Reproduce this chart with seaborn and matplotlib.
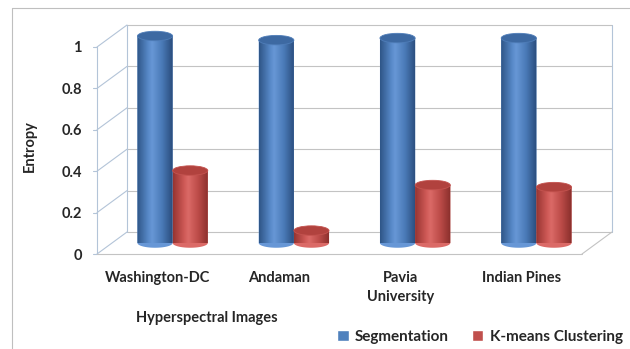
import numpy as np
import pandas as pd
import matplotlib
matplotlib.use("Agg")
import matplotlib.pyplot as plt
import seaborn as sns
from matplotlib.colors import LinearSegmentedColormap
from matplotlib.patches import Ellipse, PathPatch
from matplotlib.path import Path
from matplotlib.lines import Line2D
from matplotlib.transforms import ScaledTranslation

# data
images = ["Washington-DC", "Andaman", "Pavia\nUniversity", "Indian Pines"]
segmentation = [1.0, 0.98, 0.99, 0.99]
kmeans = [0.35, 0.06, 0.28, 0.27]
methods = ["Segmentation", "K-means Clustering"]
y_ticks = [0, 0.2, 0.4, 0.6, 0.8, 1]
y_tick_labels = ["0", "0.2", "0.4", "0.6", "0.8", "1"]

df = pd.DataFrame({
    "image": images * 2,
    "entropy": segmentation + kmeans,
    "method": [methods[0]] * len(images) + [methods[1]] * len(images),
})

sns.set_theme(style="white")
plt.rcParams["font.family"] = ["Lato", "DejaVu Sans"]
plt.rcParams["font.weight"] = "bold"

W, H, DPI = 630, 349, 100
fig = plt.figure(figsize=(W / DPI, H / DPI), dpi=DPI)
fig.patch.set_facecolor("white")

# the axes is the middle depth plane of the 3-D box
ax = fig.add_axes([112 / W, 106 / H, 485 / W, 207 / H])
ax.set_facecolor("none")
for s in ax.spines.values():
    s.set_visible(False)

blue, red = "#4f81bd", "#c0504d"
sns.barplot(data=df, x="image", y="entropy", hue="method",
            palette=[blue, red], width=0.58, saturation=1, ax=ax)
ax.set_xlim(-0.5, len(images) - 0.5)
ax.set_ylim(0, 1)
ax.set_xlabel("")
ax.set_ylabel("")

# depth offsets (pixels) converted to data units
DEPTH_X, DEPTH_Y = 15, 11
pos = ax.get_position()
px_x = len(images) / (pos.width * W)
px_y = 1 / (pos.height * H)
dx = DEPTH_X * px_x
dy = DEPTH_Y * px_y
x_lo, x_hi = ax.get_xlim()

grid_c = "#c3c3c3"
wall_c = "#b3c4d8"


def seg(x0, y0, x1, y1, color):
    ax.add_line(Line2D([x0, x1], [y0, y1], color=color, lw=0.8,
                       clip_on=False, zorder=0.5))


# back wall gridlines, left wall and front axis
for v in y_ticks:
    seg(x_lo + dx, v + dy, x_hi + dx, v + dy, grid_c)
    seg(x_lo + dx, v + dy, x_lo - dx, v - dy, wall_c)
    seg(x_lo - dx, v - dy, x_lo - dx - 4 * px_x, v - dy, wall_c)
seg(x_lo + dx, dy, x_lo + dx, 1 + dy, wall_c)
seg(x_hi + dx, dy, x_hi + dx, 1 + dy, wall_c)
seg(x_lo - dx, -dy, x_lo - dx, 1 - dy, wall_c)
# floor
seg(x_lo - dx, -dy, x_hi - dx, -dy, grid_c)
seg(x_hi - dx, -dy, x_hi + dx, dy, grid_c)

# cylinders built on the seaborn bars
shades = [
    ["#2f5688", "#5687c6", "#6797d6", "#4a7ab7", "#2a4c7c"],
    ["#973532", "#cd5855", "#db6a67", "#bd4c49", "#892e2b"],
]
tops = ["#3d69a2", "#b1423e"]
rims = ["#4f7db8", "#c4534f"]
cap_h = 9.5 * px_y
grad = np.linspace(0, 1, 64).reshape(1, -1)
for hue_i, cont in enumerate(ax.containers):
    cmap = LinearSegmentedColormap.from_list(
        f"cyl{hue_i}", list(zip([0, 0.3, 0.42, 0.7, 1], shades[hue_i])))
    for bar in cont:
        x0, w, h = bar.get_x(), bar.get_width(), bar.get_height()
        bar.set_visible(False)
        cx = x0 + w / 2
        t = np.linspace(0, np.pi, 40)
        arc = list(zip(cx + w / 2 * np.cos(t), -cap_h / 2 * np.sin(t)))
        verts = [(x0, h), (x0 + w, h)] + arc + [(x0, h)]
        body = PathPatch(Path(verts, closed=True), facecolor=shades[hue_i][2],
                         edgecolor="none", clip_on=False, zorder=2)
        ax.add_patch(body)
        im = ax.imshow(grad, cmap=cmap, extent=[x0, x0 + w, -cap_h, h],
                       aspect="auto", origin="lower", zorder=2.1,
                       interpolation="bilinear")
        im.set_clip_path(body)
        im.set_clip_box(None)
        ax.add_patch(Ellipse((cx, h), w, cap_h, facecolor=tops[hue_i],
                             edgecolor=rims[hue_i], lw=0.6, clip_on=False,
                             zorder=2.2))
ax.set_xlim(x_lo, x_hi)
ax.set_ylim(0, 1)

# ticks on the front plane
ax.set_yticks(y_ticks, y_tick_labels)
ax.tick_params(axis="y", length=0, pad=15 * 0.72, labelsize=10.5)
ax.tick_params(axis="x", length=0, pad=28 * 0.72, labelsize=10.5)
shift_y = ScaledTranslation(-DEPTH_X / DPI, -DEPTH_Y / DPI, fig.dpi_scale_trans)
shift_x = ScaledTranslation(-DEPTH_X / DPI, 0, fig.dpi_scale_trans)
for lbl in ax.get_yticklabels():
    lbl.set_transform(lbl.get_transform() + shift_y)
for lbl in ax.get_xticklabels():
    lbl.set_transform(lbl.get_transform() + shift_x)
    lbl.set_linespacing(1.5)

fig.text(207 / W, 1 - 318 / H, "Hyperspectral Images", ha="center",
         va="center", fontsize=10.5, fontweight="bold")
fig.text(30 / W, 1 - 146 / H, "Entropy", ha="center", va="center",
         rotation=90, fontsize=10.5, fontweight="bold")

sns.move_legend(ax, "center", bbox_to_anchor=(480 / W, 1 - 337 / H),
                bbox_transform=fig.transFigure, ncol=2, frameon=False,
                title=None, handlelength=0.75, handleheight=0.75,
                handletextpad=0.4, columnspacing=1.5, fontsize=11)

# outer chart border
fig.add_artist(Line2D([12 / W, 1], [1 - 8 / H, 1 - 8 / H],
                      transform=fig.transFigure, color="#bfbfbf", lw=0.8))
fig.add_artist(Line2D([12 / W, 12 / W], [0, 1 - 8 / H],
                      transform=fig.transFigure, color="#bfbfbf", lw=0.8))

fig.savefig("out.png", dpi=DPI)
